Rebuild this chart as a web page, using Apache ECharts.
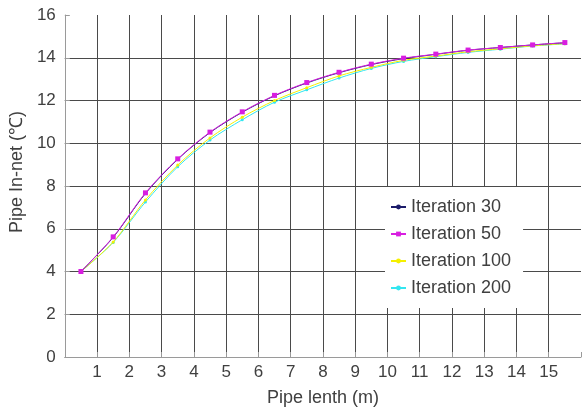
<!DOCTYPE html>
<html>
<head>
<meta charset="utf-8">
<script src="https://cdn.jsdelivr.net/npm/echarts@6/dist/echarts.min.js"></script>
<style>
  html, body { margin: 0; padding: 0; background: #fff; }
  #chart { width: 584px; height: 412px; }
</style>
</head>
<body>
<div id="chart"></div>
<script>
const pipeLength = [0.5, 1.5, 2.5, 3.5, 4.5, 5.5, 6.5, 7.5, 8.5, 9.5, 10.5, 11.5, 12.5, 13.5, 14.5, 15.5]
const iter30 = [4.0, 5.6, 7.65, 9.25, 10.5, 11.45, 12.22, 12.82, 13.3, 13.68, 13.96, 14.16, 14.35, 14.48, 14.6, 14.7]
const iter50 = [4.0, 5.62, 7.68, 9.27, 10.52, 11.47, 12.24, 12.84, 13.32, 13.7, 13.98, 14.17, 14.36, 14.48, 14.6, 14.71]
const iter100 = [4.0, 5.38, 7.35, 8.98, 10.25, 11.22, 12.0, 12.6, 13.15, 13.55, 13.88, 14.08, 14.28, 14.42, 14.56, 14.66]
const iter200 = [4.0, 5.36, 7.25, 8.9, 10.15, 11.1, 11.92, 12.5, 13.05, 13.5, 13.83, 14.05, 14.25, 14.4, 14.55, 14.65]

const toPairs = ys => ys.map((y, i) => [pipeLength[i], y])

const font = 'Liberation Sans, Arial, sans-serif'
const textColor = '#404040'
const gridColor = '#4a4a4a'
const axisColor = '#9a9a9a'

// grid line colours: last one (top / right edge) hidden
const xSplit = Array.from({ length: 17 }, (_, i) => (i === 16 ? 'rgba(0,0,0,0)' : gridColor))
const ySplit = Array.from({ length: 9 }, (_, i) => (i === 8 ? 'rgba(0,0,0,0)' : gridColor))

const chart = echarts.init(document.getElementById('chart'))

const mkSeries = (name, data, color, symbol, size, z) => ({
  name,
  type: 'line',
  data: toPairs(data),
  smooth: 0.3,
  symbol,
  symbolSize: size,
  z,
  lineStyle: { color, width: 1 },
  itemStyle: { color },
  emphasis: { disabled: true }
})

chart.setOption({
  animation: false,
  textStyle: { fontFamily: font },
  grid: { left: 62, right: 1, top: 15, bottom: 55 },
  legend: {
    orient: 'vertical',
    left: 385,
    top: 187,
    padding: [11, 12, 11, 5],
    itemGap: 9,
    itemWidth: 15,
    itemHeight: 6,
    backgroundColor: '#fff',
    textStyle: { fontSize: 18, lineHeight: 18, color: textColor, fontFamily: font },
    data: ['Iteration 30', 'Iteration 50', 'Iteration 100', 'Iteration 200']
  },
  xAxis: {
    type: 'value',
    min: 0,
    max: 16,
    interval: 1,
    name: 'Pipe lenth (m)',
    nameLocation: 'middle',
    nameGap: 32,
    nameTextStyle: { fontSize: 18, color: textColor },
    axisLine: { lineStyle: { color: axisColor } },
    axisTick: { show: true, inside: true, length: 5, lineStyle: { color: axisColor } },
    axisLabel: {
      fontSize: 17,
      color: textColor,
      margin: 7,
      formatter: v => (v === 0 || v === 16 ? '' : String(v))
    },
    splitLine: { show: true, lineStyle: { color: xSplit, width: 1 } }
  },
  yAxis: {
    type: 'value',
    min: 0,
    max: 16,
    interval: 2,
    name: 'Pipe In-net (\u2103)',
    nameLocation: 'middle',
    nameGap: 31,
    nameTextStyle: { fontSize: 18, color: textColor, padding: [0, 0, 0, 28] },
    axisLine: { show: true, lineStyle: { color: axisColor } },
    axisTick: { show: true, inside: true, length: 5, lineStyle: { color: axisColor } },
    axisLabel: { fontSize: 17, color: textColor, margin: 9 },
    splitLine: { show: true, lineStyle: { color: ySplit, width: 1 } }
  },
  series: [
    mkSeries('Iteration 200', iter200, '#33e6f0', 'circle', 3, 2),
    mkSeries('Iteration 100', iter100, '#f5f000', 'circle', 3, 3),
    mkSeries('Iteration 30', iter30, '#1c1c6a', 'circle', 3, 4),
    mkSeries('Iteration 50', iter50, '#d81ee0', 'rect', 5, 5)
  ]
})

window.addEventListener('resize', () => {
  chart.resize()
})
</script>
</body>
</html>
